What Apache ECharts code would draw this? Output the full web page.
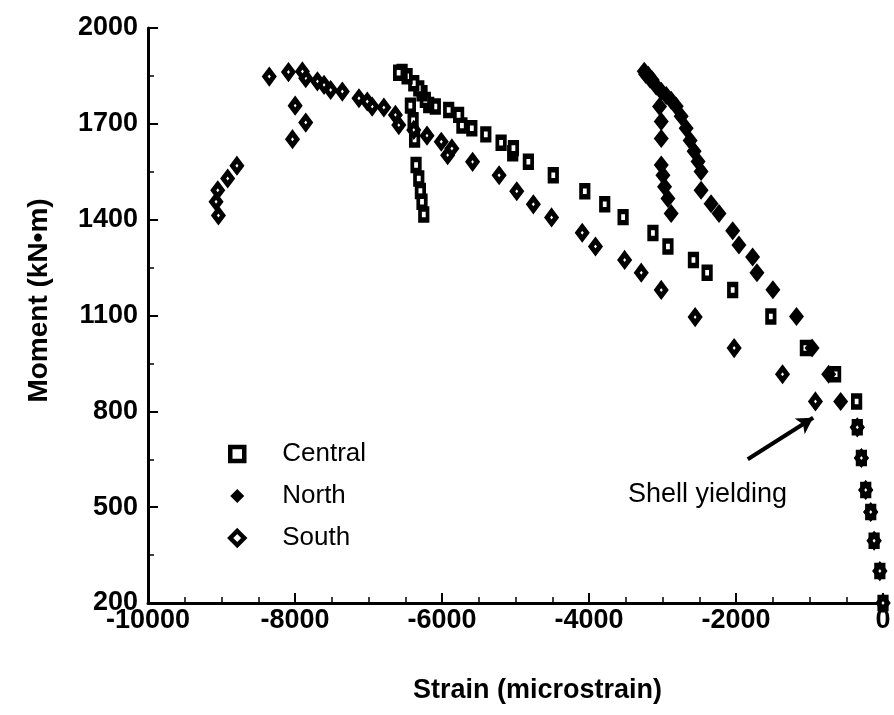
<!DOCTYPE html>
<html>
<head>
<meta charset="utf-8">
<script src="https://cdn.jsdelivr.net/npm/echarts@6/dist/echarts.min.js"></script>
<style>
  html, body { margin: 0; padding: 0; background: #fff; }
  #chart { width: 894px; height: 715px; }
</style>
</head>
<body>
<div id="chart"></div>
<script>
// ---- Data (strain in microstrain, moment in kN·m) ----
const seriesNames = ['Central', 'North', 'South'];

const centralStrain = [0, -43, -121, -167, -235, -294, -350, -359, -645, -1056, -1526, -2045, -2393, -2579, -2926, -3130, -3536, -3786, -4057, -4486, -4825, -5038, -5028, -5196, -5404, -5594, -5729, -5774, -5909, -6091, -6181, -6227, -6272, -6316, -6384, -6475, -6543, -6590,
  -6430, -6393, -6373, -6353, -6316, -6294, -6272, -6248];
const centralMoment = [200, 300, 395, 485, 554, 654, 750, 831, 916, 998, 1097, 1180, 1234, 1274, 1316, 1358, 1408, 1448, 1489, 1539, 1581, 1608, 1624, 1641, 1667, 1686, 1695, 1728, 1743, 1754, 1759, 1775, 1796, 1811, 1827, 1849, 1862, 1860,
  1757, 1711, 1651, 1571, 1529, 1490, 1456, 1416];

const northStrain = [0, -43, -121, -167, -235, -294, -350, -576, -739, -965, -1177, -1498, -1715, -1774, -1960, -2045, -2231, -2339, -2475, -2475, -2516, -2570, -2624, -2678, -2746, -2814, -2882, -2949, -3017, -3085, -3140, -3170, -3194, -3230, -3248,
  -3040, -3017, -3017, -3017, -2994, -2972, -2926, -2882];
const northMoment = [200, 300, 395, 485, 554, 654, 750, 831, 916, 998, 1097, 1181, 1234, 1283, 1321, 1365, 1419, 1450, 1492, 1551, 1582, 1614, 1648, 1686, 1724, 1755, 1774, 1789, 1802, 1818, 1837, 1840, 1852, 1855, 1865,
  1754, 1707, 1654, 1571, 1539, 1503, 1466, 1419];

const southStrain = [0, -43, -121, -167, -235, -294, -350, -919, -1367, -2025, -2556, -3017, -3289, -3515, -3912, -4092, -4509, -4757, -4983, -5223, -5584, -5923, -5865, -6010, -6204, -6384, -6588, -6634, -6791, -6950, -7017, -7130, -7356, -7515, -7605, -7695, -7854, -7899, -8089, -8350,
  -7998, -7854, -8034, -8790, -8916, -9051, -9074, -9042];
const southMoment = [200, 300, 395, 485, 554, 654, 750, 831, 916, 998, 1095, 1180, 1234, 1274, 1316, 1359, 1407, 1448, 1489, 1539, 1581, 1602, 1623, 1644, 1663, 1681, 1696, 1728, 1751, 1754, 1770, 1780, 1801, 1806, 1822, 1833, 1843, 1864, 1862, 1848,
  1757, 1704, 1652, 1569, 1529, 1492, 1456, 1413];

// Annotation: arrow from tail to head (data coords)
const arrowTail = [-1840, 650];
const arrowHead = [-950, 780];
const annotationText = 'Shell yielding';

const xTicks = { min: -10000, max: 0, step: 2000 };
const yTicks = { min: 200, max: 2000, step: 300 };

// ---- Build ----
function zip(a, b) { return a.map((v, i) => [v, b[i]]); }

const font = '"Liberation Sans", Arial, Helvetica, sans-serif';
const chart = echarts.init(document.getElementById('chart'), null, { renderer: 'canvas' });

const option = {
  backgroundColor: '#fff',
  animation: false,
  grid: { left: 148, right: 11, top: 28, bottom: 112, containLabel: false, outerBoundsMode: 'none' },
  legend: {
    orient: 'vertical',
    left: 223,
    top: 436,
    itemWidth: 14,
    itemHeight: 14,
    itemGap: 16,
    selectedMode: false,
    textStyle: { fontFamily: font, fontSize: 26, color: '#000', padding: [0, 0, 0, 33] },
    data: [
      { name: seriesNames[0], itemStyle: { color: '#fff', borderColor: '#000', borderWidth: 4.5 } },
      { name: seriesNames[1], itemStyle: { color: '#000', borderColor: '#000', borderWidth: 0 } },
      { name: seriesNames[2], itemStyle: { color: '#fff', borderColor: '#000', borderWidth: 4.5 } }
    ]
  },
  xAxis: {
    type: 'value',
    min: xTicks.min, max: xTicks.max, interval: xTicks.step,
    name: 'Strain (microstrain)',
    nameLocation: 'middle',
    nameGap: 74,
    nameTextStyle: { fontFamily: font, fontSize: 27, fontWeight: 'bold', color: '#000', padding: [0, 0, 0, 44] },
    axisLine: { show: true, onZero: false, lineStyle: { color: '#000', width: 3 } },
    axisTick: { show: true, inside: true, length: 10, lineStyle: { color: '#000', width: 2 } },
    minorTick: { show: true, splitNumber: 4, length: 6, lineStyle: { color: '#000', width: 1.5 } },
    axisLabel: { fontFamily: font, fontSize: 27, fontWeight: 'bold', color: '#000', margin: 4, formatter: v => String(v) },
    splitLine: { show: false }
  },
  yAxis: {
    type: 'value',
    min: yTicks.min, max: yTicks.max, interval: yTicks.step,
    name: 'Moment (kN\u2022m)',
    nameLocation: 'middle',
    nameGap: 95,
    nameTextStyle: { fontFamily: font, fontSize: 28, fontWeight: 'bold', color: '#000', padding: [0, 0, 0, 30] },
    axisLine: { show: true, onZero: false, lineStyle: { color: '#000', width: 3 } },
    axisTick: { show: true, inside: true, length: 10, lineStyle: { color: '#000', width: 2 } },
    minorTick: { show: true, splitNumber: 2, length: 6, lineStyle: { color: '#000', width: 1.5 } },
    axisLabel: { fontFamily: font, fontSize: 27, fontWeight: 'bold', color: '#000', margin: 10, formatter: v => String(v) },
    splitLine: { show: false }
  },
  series: [
    {
      name: seriesNames[0],
      type: 'scatter',
      symbol: 'rect',
      symbolSize: [7.5, 11],
      itemStyle: { color: '#fff', borderColor: '#000', borderWidth: 4.5, opacity: 1 },
      data: zip(centralStrain, centralMoment),
      z: 3
    },
    {
      name: seriesNames[1],
      type: 'scatter',
      symbol: 'diamond',
      symbolSize: [15, 19],
      itemStyle: { color: '#000', borderColor: '#000', borderWidth: 0, opacity: 1 },
      data: zip(northStrain, northMoment),
      z: 4
    },
    {
      name: seriesNames[2],
      type: 'scatter',
      symbol: 'diamond',
      symbolSize: [9, 12],
      itemStyle: { color: '#fff', borderColor: '#000', borderWidth: 5, opacity: 1 },
      data: zip(southStrain, southMoment),
      z: 5,
      markLine: {
        silent: true,
        symbol: ['none', 'arrow'],
        symbolSize: [14, 16],
        label: { show: false },
        lineStyle: { color: '#000', width: 4, type: 'solid' },
        data: [[{ coord: arrowTail }, { coord: arrowHead }]]
      }
    }
  ],
  graphic: [
    {
      type: 'text',
      left: 628,
      top: 481,
      style: { text: annotationText, fontFamily: font, fontSize: 27, fill: '#000' }
    }
  ]
};
chart.setOption(option);
</script>
</body>
</html>
